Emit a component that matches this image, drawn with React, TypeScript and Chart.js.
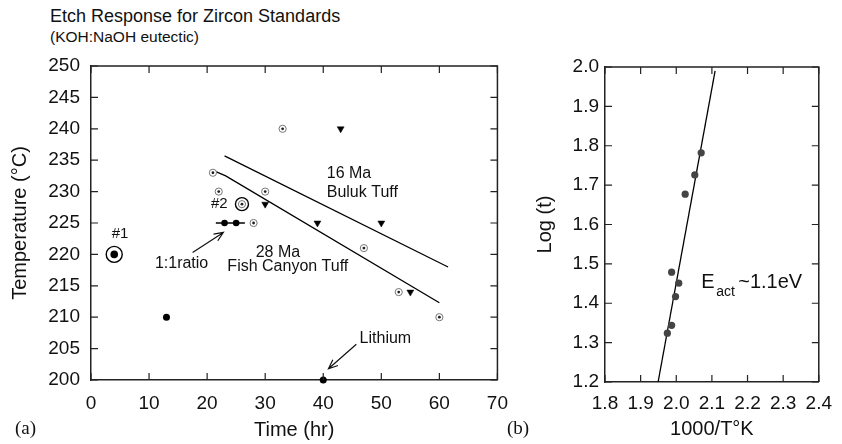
import React, { useEffect, useRef } from 'react';
import { Chart, registerables } from 'chart.js';
Chart.register(...registerables);

const FONT = '"Liberation Sans", Arial, Helvetica, sans-serif';
const INK = '#111';

// ---------- Panel (a): Etch response ----------
const xTicksA = [0, 10, 20, 30, 40, 50, 60, 70];
const yTicksA = [200, 205, 210, 215, 220, 225, 230, 235, 240, 245, 250];
// small bullseye markers
const bullX = [33, 21, 22, 30, 26, 28, 47, 53, 60];
const bullY = [240, 233, 230, 230, 228, 225, 221, 214, 210];
// downward triangles
const triX = [43, 30, 39, 50, 55];
const triY = [240, 228, 225, 225, 214];
// filled dots
const dotX = [4, 13, 40, 23, 25];
const dotY = [220, 210, 200, 225, 225];
// large rings (#1, #2)
const ringX = [4, 26];
const ringY = [220, 228];
// 1:1 ratio horizontal bar
const barX = [21.5, 26.5];
const barY = [225, 225];
// trend lines
const line16X = [23, 61.5];
const line16Y = [235.7, 218];
const line28X = [21.2, 23.2, 60];
const line28Y = [233.3, 232.5, 212.3];

// ---------- Panel (b): Arrhenius ----------
const xTicksB = [1.8, 1.9, 2.0, 2.1, 2.2, 2.3, 2.4];
const yTicksB = [1.2, 1.3, 1.4, 1.5, 1.6, 1.7, 1.8, 1.9, 2.0];
const invT = [2.07, 2.052, 2.025, 1.987, 2.007, 1.998, 1.987, 1.975];
const logT = [1.782, 1.726, 1.677, 1.479, 1.451, 1.417, 1.344, 1.324];
const fitX = [1.949, 2.109];
const fitY = [1.2, 1.99];

const pts = (xs: number[], ys: number[]) => xs.map((x, i) => ({ x, y: ys[i] }));

function frameTicks(chart: any, xt: number[], yt: number[]) {
  const { ctx, chartArea: a, scales } = chart;
  ctx.save();
  ctx.strokeStyle = '#222';
  ctx.lineWidth = 1.5;
  ctx.beginPath();
  ctx.moveTo(a.left, a.top);
  ctx.lineTo(a.right, a.top);
  ctx.lineTo(a.right, a.bottom);
  ctx.stroke();
  ctx.lineWidth = 1.2;
  ctx.beginPath();
  xt.forEach((v) => {
    const px = scales.x.getPixelForValue(v);
    ctx.moveTo(px, a.bottom);
    ctx.lineTo(px, a.bottom - 7);
    ctx.moveTo(px, a.top);
    ctx.lineTo(px, a.top + 7);
  });
  yt.forEach((v) => {
    const py = scales.y.getPixelForValue(v);
    ctx.moveTo(a.left, py);
    ctx.lineTo(a.left + 7, py);
    ctx.moveTo(a.right, py);
    ctx.lineTo(a.right - 7, py);
  });
  ctx.stroke();
  ctx.restore();
}

function arrow(ctx: CanvasRenderingContext2D, x1: number, y1: number, x2: number, y2: number) {
  const ang = Math.atan2(y2 - y1, x2 - x1);
  const L = 10;
  ctx.beginPath();
  ctx.moveTo(x1, y1);
  ctx.lineTo(x2, y2);
  ctx.moveTo(x2 - L * Math.cos(ang - 0.4), y2 - L * Math.sin(ang - 0.4));
  ctx.lineTo(x2, y2);
  ctx.lineTo(x2 - L * Math.cos(ang + 0.4), y2 - L * Math.sin(ang + 0.4));
  ctx.stroke();
}

const annotA = {
  id: 'annotA',
  afterDraw(chart: any) {
    frameTicks(chart, xTicksA, yTicksA);
    const { ctx, scales } = chart;
    const X = (v: number) => scales.x.getPixelForValue(v);
    const Y = (v: number) => scales.y.getPixelForValue(v);
    ctx.save();
    ctx.fillStyle = INK;
    ctx.textBaseline = 'middle';
    ctx.font = `15px ${FONT}`;
    ctx.textAlign = 'center';
    ctx.fillText('#1', X(5), Y(223.2));
    ctx.fillText('#2', X(22.1), Y(228.1));
    ctx.font = `16px ${FONT}`;
    ctx.fillText('1:1ratio', X(15.6), Y(218.6));
    ctx.fillText('28 Ma', X(32.2), Y(220.3));
    ctx.fillText('Fish Canyon Tuff', X(33.9), Y(218.1));
    ctx.fillText('Lithium', X(50.7), Y(206.6));
    ctx.textAlign = 'left';
    ctx.fillText('16 Ma', X(40.6), Y(232.8));
    ctx.fillText('Buluk Tuff', X(40.6), Y(229.9));
    ctx.strokeStyle = INK;
    ctx.lineWidth = 1.2;
    arrow(ctx, X(17.5), Y(220.3), X(22.8), Y(223.5));
    arrow(ctx, X(45.7), Y(205.7), X(40.9), Y(201.8));
    ctx.restore();
  },
};

const annotB = {
  id: 'annotB',
  afterDraw(chart: any) {
    frameTicks(chart, xTicksB, yTicksB);
    const { ctx, scales } = chart;
    const px = scales.x.getPixelForValue(2.07);
    const py = scales.y.getPixelForValue(1.452);
    ctx.save();
    ctx.fillStyle = INK;
    ctx.textBaseline = 'middle';
    ctx.textAlign = 'left';
    ctx.font = `20px ${FONT}`;
    ctx.fillText('E', px, py);
    ctx.font = `14px ${FONT}`;
    ctx.fillText('act', px + 15, py + 9);
    ctx.font = `20px ${FONT}`;
    ctx.fillText('~1.1eV', px + 37, py);
    ctx.restore();
  },
};

function axisOpts(
  min: number,
  max: number,
  ticks: number[],
  title: string,
  pad: number,
  fit: (s: any) => void,
  titlePad: any,
  decimals: number
) {
  return {
    type: 'linear' as const,
    min,
    max,
    afterBuildTicks: (s: any) => {
      s.ticks = ticks.map((v) => ({ value: v }));
    },
    afterFit: fit,
    grid: { display: false, drawTicks: false },
    border: { display: true, color: '#222', width: 1.5 },
    ticks: {
      padding: pad,
      autoSkip: false,
      maxRotation: 0,
      color: INK,
      font: { family: FONT, size: 19 },
      callback: (v: any) => Number(v).toFixed(decimals),
    },
    title: {
      display: true,
      text: title,
      color: INK,
      font: { family: FONT, size: 20 },
      padding: titlePad,
    },
  };
}

export default function App() {
  const refA = useRef<HTMLCanvasElement>(null);
  const refB = useRef<HTMLCanvasElement>(null);

  useEffect(() => {
    const chartA = new Chart(refA.current!, {
      type: 'scatter',
      data: {
        datasets: [
          {
            data: pts(dotX, dotY),
            pointStyle: 'circle',
            pointRadius: [3.8, 3.5, 3.5, 3.3, 3.3],
            backgroundColor: '#000',
            borderWidth: 0,
            clip: false,
          },
          {
            data: pts(bullX, bullY),
            pointStyle: 'circle',
            pointRadius: 1.4,
            backgroundColor: '#222',
            borderWidth: 0,
            clip: false,
          },
          {
            data: pts(bullX, bullY),
            pointStyle: 'circle',
            pointRadius: 3.6,
            backgroundColor: '#fff',
            borderColor: '#777',
            borderWidth: 1,
            clip: false,
          },
          {
            data: pts(ringX, ringY),
            pointStyle: 'circle',
            pointRadius: [8, 6.5],
            backgroundColor: '#fff',
            borderColor: '#000',
            borderWidth: 1.4,
            clip: false,
          },
          {
            data: pts(triX, triY),
            pointStyle: 'triangle',
            rotation: 180,
            pointRadius: 4,
            backgroundColor: '#000',
            borderColor: '#000',
            borderWidth: 0.5,
            clip: false,
          },
          {
            data: pts(barX, barY),
            showLine: true,
            pointRadius: 0,
            borderColor: '#000',
            borderWidth: 1.4,
          },
          {
            data: pts(line16X, line16Y),
            showLine: true,
            pointRadius: 0,
            borderColor: '#000',
            borderWidth: 1.3,
          },
          {
            data: pts(line28X, line28Y),
            showLine: true,
            pointRadius: 0,
            borderColor: '#000',
            borderWidth: 1.3,
          },
        ],
      },
      options: {
        responsive: false,
        animation: false,
        events: [],
        layout: { padding: { top: 66, right: 20, left: 0, bottom: 0 } },
        plugins: { legend: { display: false }, tooltip: { enabled: false } },
        scales: {
          x: axisOpts(0, 70, xTicksA, 'Time (hr)', 12, (s: any) => { s.height = 64; }, { top: 0, bottom: 2 }, 0),
          y: axisOpts(200, 250, yTicksA, 'Temperature (°C)', 11, (s: any) => { s.width = 91; }, { top: 8, bottom: 0 }, 0),
        },
      },
      plugins: [annotA],
    } as any);

    const chartB = new Chart(refB.current!, {
      type: 'scatter',
      data: {
        datasets: [
          {
            data: pts(invT, logT),
            pointStyle: 'circle',
            pointRadius: 3.6,
            backgroundColor: '#444',
            borderWidth: 0,
            clip: false,
          },
          {
            data: pts(fitX, fitY),
            showLine: true,
            pointRadius: 0,
            borderColor: '#000',
            borderWidth: 1.3,
          },
        ],
      },
      options: {
        responsive: false,
        animation: false,
        events: [],
        layout: { padding: { top: 67, right: 15, left: 0, bottom: 0 } },
        plugins: { legend: { display: false }, tooltip: { enabled: false } },
        scales: {
          x: axisOpts(1.8, 2.4, xTicksB, '1000/T°K', 10, (s: any) => { s.height = 62; }, { top: 0, bottom: 3 }, 1),
          y: axisOpts(1.2, 2.0, yTicksB, 'Log (t)', 6, (s: any) => { s.width = 85; }, { top: 13, bottom: 0 }, 1),
        },
      },
      plugins: [annotB],
    } as any);

    return () => {
      chartA.destroy();
      chartB.destroy();
    };
  }, []);

  return (
    <div style={{ position: 'absolute', left: 0, top: 0, width: 842, height: 444, background: '#fff', overflow: 'hidden' }}>
      <div style={{ position: 'absolute', left: 50, top: 7, font: `18px ${FONT}`, lineHeight: '18px', color: INK, whiteSpace: 'nowrap' }}>
        Etch Response for Zircon Standards
      </div>
      <div style={{ position: 'absolute', left: 50, top: 28.5, font: `15.5px ${FONT}`, lineHeight: '15px', color: INK, whiteSpace: 'nowrap' }}>
        (KOH:NaOH eutectic)
      </div>
      <canvas ref={refA} width={520} height={444} style={{ position: 'absolute', left: 0, top: 0, width: 520, height: 444 }} />
      <canvas ref={refB} width={322} height={444} style={{ position: 'absolute', left: 520, top: 0, width: 322, height: 444 }} />
      <div style={{ position: 'absolute', left: 15, top: 418, font: `19px "Liberation Serif", "Times New Roman", serif`, lineHeight: '19px', color: INK }}>
        (a)
      </div>
      <div style={{ position: 'absolute', left: 507, top: 418, font: `19px "Liberation Serif", "Times New Roman", serif`, lineHeight: '19px', color: INK }}>
        (b)
      </div>
    </div>
  );
}
